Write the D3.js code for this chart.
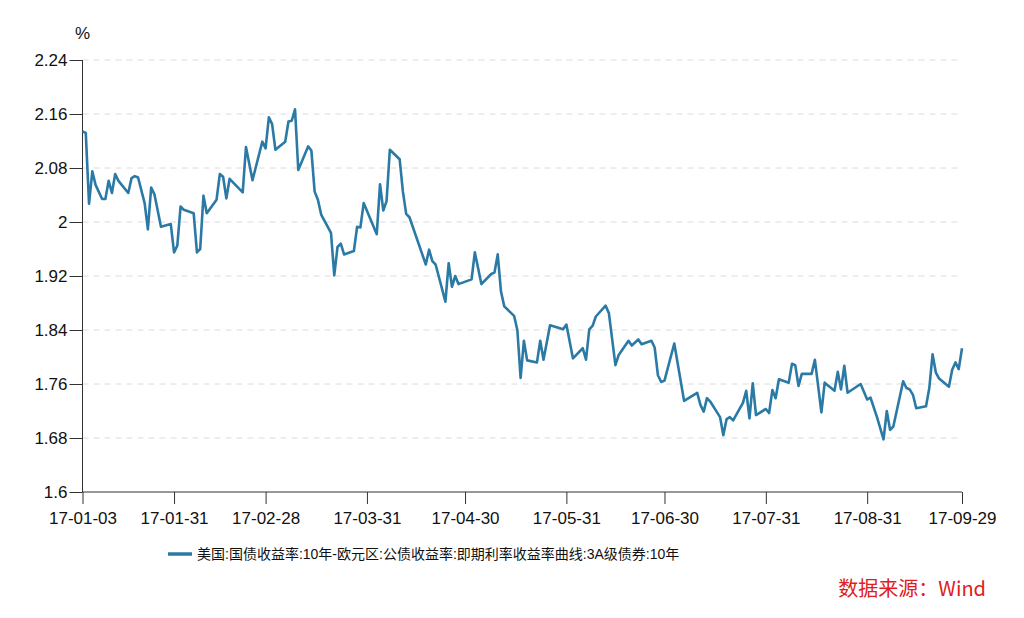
<!DOCTYPE html>
<html><head><meta charset="utf-8">
<script src="https://cdn.jsdelivr.net/npm/d3@7"></script>
<style>
html,body{margin:0;padding:0;background:#fff;}
svg{display:block;font-family:"Liberation Sans",Arial,"Noto Sans CJK SC",sans-serif;}
</style></head><body>
<svg id="c" width="1024" height="618"></svg>
<script>
const dates = ["01-03","01-04","01-05","01-06","01-07","01-09","01-10","01-11","01-12","01-13","01-14","01-17","01-18","01-19","01-20","01-22","01-23","01-24","01-25","01-27","01-30","01-31",
"02-01","02-02","02-03","02-06","02-07","02-08","02-09","02-10","02-13","02-14","02-15","02-16","02-17","02-21","02-22","02-24","02-27","02-28",
"03-01","03-02","03-03","03-06","03-07","03-08","03-09","03-10","03-13","03-14","03-15","03-16","03-17","03-20","03-21","03-22","03-23","03-24","03-27","03-28","03-29","03-30",
"04-03","04-04","04-05","04-06","04-07","04-10","04-11","04-12","04-13","04-18","04-19","04-20","04-21","04-24","04-25","04-26","04-27","04-28",
"05-02","05-03","05-05","05-08","05-09","05-10","05-11","05-12","05-15","05-16","05-17","05-18","05-19","05-22","05-23","05-24","05-26","05-30","05-31",
"06-02","06-05","06-06","06-07","06-08","06-09","06-12","06-13","06-15","06-16","06-19","06-20","06-22","06-23","06-26","06-27","06-28","06-29","06-30",
"07-03","07-06","07-10","07-11","07-12","07-13","07-14","07-17","07-18","07-19","07-20","07-21","07-24","07-25","07-26","07-27","07-28","07-31",
"08-01","08-02","08-03","08-04","08-07","08-08","08-09","08-10","08-11","08-14","08-15","08-17","08-18","08-21","08-22","08-23","08-24","08-25","08-29","08-31",
"09-01","09-03","09-05","09-06","09-07","09-08","09-11","09-12","09-13","09-14","09-15","09-18","09-19","09-20","09-21","09-22","09-25","09-26","09-27","09-28","09-29"];
const values = [2.134,2.132,2.027,2.075,2.055,2.034,2.034,2.061,2.043,2.071,2.061,2.043,2.065,2.068,2.066,2.028,1.989,2.051,2.041,1.993,1.997,1.955,
1.965,2.023,2.018,2.013,1.955,1.960,2.039,2.013,2.033,2.071,2.067,2.035,2.064,2.044,2.111,2.062,2.119,2.109,
2.155,2.145,2.107,2.119,2.149,2.150,2.167,2.077,2.112,2.106,2.045,2.033,2.011,1.984,1.921,1.963,1.968,1.952,1.957,1.993,1.992,2.028,
1.982,2.056,2.017,2.031,2.107,2.093,2.045,2.012,2.007,1.937,1.959,1.942,1.937,1.882,1.939,1.904,1.920,1.908,
1.915,1.955,1.908,1.923,1.925,1.952,1.897,1.875,1.861,1.840,1.769,1.824,1.795,1.792,1.824,1.796,1.847,1.841,1.848,
1.798,1.813,1.796,1.841,1.846,1.860,1.876,1.865,1.788,1.803,1.824,1.817,1.826,1.819,1.824,1.814,1.773,1.763,1.765,
1.820,1.735,1.747,1.729,1.719,1.739,1.734,1.711,1.684,1.708,1.711,1.706,1.732,1.750,1.709,1.761,1.714,1.723,
1.717,1.751,1.739,1.767,1.762,1.790,1.788,1.757,1.775,1.775,1.796,1.718,1.762,1.750,1.778,1.752,1.787,1.747,1.760,1.737,
1.740,1.711,1.678,1.720,1.692,1.697,1.764,1.754,1.752,1.744,1.724,1.727,1.754,1.804,1.777,1.768,1.756,1.781,1.792,1.782,1.813];
const year = 2017;
const xTickLabels = ["17-01-03","17-01-31","17-02-28","17-03-31","17-04-30","17-05-31","17-06-30","17-07-31","17-08-31","17-09-29"];
const yTicks = [1.6,1.68,1.76,1.84,1.92,2.0,2.08,2.16,2.24];
const seriesName = "美国:国债收益率:10年-欧元区:公债收益率:即期利率收益率曲线:3A级债券:10年";
const unitLabel = "%";
const sourceLabel = "数据来源：Wind";

const parse = d3.timeParse("%Y-%m-%d");
const data = dates.map((d,i)=>({date: parse(year+"-"+d), value: values[i]}));
const tickDates = xTickLabels.map(s=>d3.timeParse("%y-%m-%d")(s));

const svg = d3.select("#c");
const L=82.5, R=962, T=60, B=492;
const x = d3.scaleTime().domain([tickDates[0], tickDates[tickDates.length-1]]).range([L,R]);
const y = d3.scaleLinear().domain([1.6,2.24]).range([B,T]);

// grid
svg.append("g").selectAll("line").data(yTicks.filter(v=>v>1.6)).join("line")
  .attr("x1",L).attr("x2",R).attr("y1",d=>y(d)).attr("y2",d=>y(d))
  .attr("stroke","#dcdcdc").attr("stroke-width",1).attr("stroke-dasharray","6,5");

// y axis
const ya = svg.append("g").attr("transform",`translate(${L},0)`)
  .call(d3.axisLeft(y).tickValues(yTicks).tickSize(13).tickPadding(2).tickFormat(d=>d3.format("")(+d.toFixed(2))));
ya.select(".domain").attr("stroke","#333").attr("d",`M-0,${B}V${T}`);
ya.selectAll(".tick line").attr("stroke","#333");
ya.selectAll("text").attr("font-size",17).attr("fill","#111").style("font-family","Liberation Sans, Arial, sans-serif");

// x axis
const xa = svg.append("g").attr("transform",`translate(0,${B})`)
  .call(d3.axisBottom(x).tickValues(tickDates).tickSize(12).tickPadding(8).tickFormat((d,i)=>xTickLabels[i]));
xa.select(".domain").attr("stroke","#333").attr("d",`M${L},0H${R}`);
xa.selectAll(".tick line").attr("stroke","#333");
xa.selectAll("text").attr("font-size",17).attr("fill","#111").style("font-family","Liberation Sans, Arial, sans-serif");

// unit
svg.append("text").attr("x",L).attr("y",39).attr("text-anchor","middle")
  .attr("font-size",17).attr("fill","#111").text(unitLabel);

// line
svg.append("path").datum(data)
  .attr("fill","none").attr("stroke","#2b7aa6").attr("stroke-width",2.6).attr("stroke-linejoin","round")
  .attr("d", d3.line().x(d=>x(d.date)).y(d=>y(d.value)));

// legend
const lg = svg.append("g").attr("transform","translate(168,554)");
lg.append("line").attr("x1",0).attr("x2",24).attr("y1",0).attr("y2",0).attr("stroke","#2b7aa6").attr("stroke-width",3.5);
lg.append("text").attr("x",29).attr("y",5).attr("font-size",14).attr("fill","#111")
  .style("font-family","Liberation Sans, Arial, 'Noto Sans CJK SC', sans-serif").text(seriesName);

// source
svg.append("text").attr("x",986).attr("y",596).attr("text-anchor","end").attr("font-size",20)
  .attr("fill","#e0201c").style("font-family","'Noto Sans CJK SC', sans-serif").text(sourceLabel);
</script>
</body></html>
